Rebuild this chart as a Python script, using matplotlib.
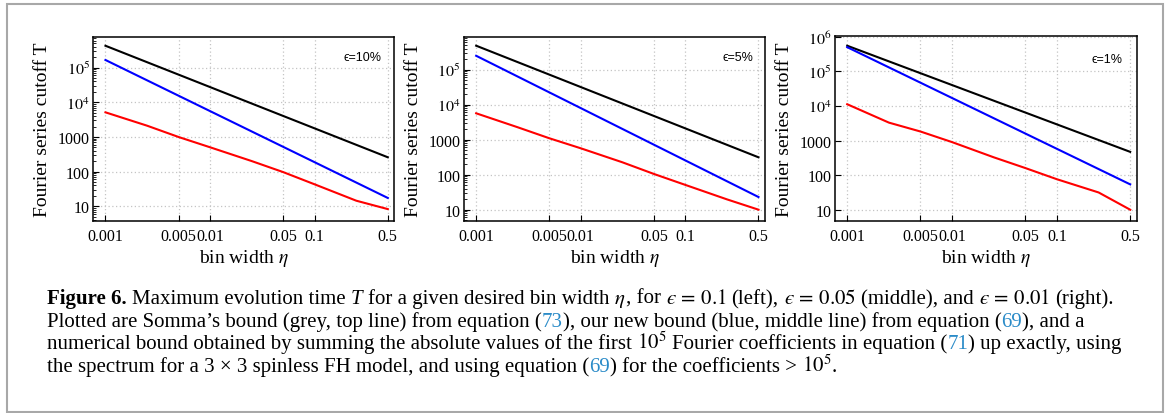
import numpy as np
import matplotlib

matplotlib.use("Agg")
import matplotlib.pyplot as plt
from matplotlib.patches import Rectangle
from matplotlib.ticker import FixedLocator, LogLocator, NullFormatter

W, H = 1167, 414

plt.rcParams["font.family"] = ["Liberation Serif", "DejaVu Serif"]
plt.rcParams["mathtext.fontset"] = "stix"

# bin width eta (x) values
eta_line = [0.001, 0.5]
eta_num = [0.001, 0.0025, 0.005, 0.01, 0.025, 0.05, 0.1, 0.25, 0.5]

# Somma's bound (black), new bound (blue), numerical bound (red)
somma = {
    "10": [4.3e5, 260],
    "5": [4.85e5, 314],
    "1": [5.5e5, 470],
}
new_bound = {
    "10": [1.67e5, 17.4],
    "5": [2.5e5, 23],
    "1": [5.0e5, 54],
}
numerical = {
    "10": [5150, 2120, 1000, 505, 202, 97, 43, 14.5, 8.3],
    "5": [5680, 2260, 1100, 568, 226, 105, 51, 19.7, 10],
    "1": [11200, 3290, 1820, 900, 327, 160, 76, 31.5, 10],
}
panel_keys = ["10", "5", "1"]
eps_labels = ["\u03f5=10%", "\u03f5=5%", "\u03f5=1%"]

x_ticks = [0.001, 0.005, 0.01, 0.05, 0.1, 0.5]
x_ticklabels = ["0.001", "0.005", "0.01", "0.05", "0.1", "0.5"]
y_ticks = [10, 100, 1000, 1e4, 1e5, 1e6]
y_ticklabels = ["10", "100", "1000", r"$10^{4}$", r"$10^{5}$", r"$10^{6}$"]

# axes boxes in pixels (x0, y0, x1, y1), y from top
boxes = [(93.3, 37.7, 394.3, 222.3), (464, 37.7, 765, 222.0), (835, 37.3, 1136.7, 222.3)]
ylims = [(3.69, 7.85e5), (4.75, 8.77e5), (4.62, 1.03e6)]
xlim = (7.65e-4, 0.577)
eps_pos = [(363, 58), (738, 58), (1107, 60)]

GRID = "#c4c4c4"
LINK = "#2a8bc8"

fig = plt.figure(figsize=(W / 100, H / 100), dpi=100)
fig.patch.set_facecolor("white")

for i, key in enumerate(panel_keys):
    x0, y0, x1, y1 = boxes[i]
    ax = fig.add_axes([x0 / W, 1 - y1 / H, (x1 - x0) / W, (y1 - y0) / H])
    ax.set_xscale("log")
    ax.set_yscale("log")
    ax.plot(eta_line, somma[key], color="black", lw=1.5, zorder=3)
    ax.plot(eta_line, new_bound[key], color="#0000ff", lw=1.5, zorder=3)
    ax.plot(eta_num, numerical[key], color="#ff0000", lw=1.5, zorder=3)
    ax.set_xlim(*xlim)

    ax.xaxis.set_major_locator(FixedLocator(x_ticks))
    ax.set_xticklabels(x_ticklabels)
    ax.xaxis.set_minor_locator(FixedLocator([]))
    ax.yaxis.set_major_locator(FixedLocator(y_ticks))
    ax.set_yticklabels(y_ticklabels)
    ax.yaxis.set_minor_locator(LogLocator(base=10, subs=np.arange(2, 10)))
    ax.yaxis.set_minor_formatter(NullFormatter())
    ax.set_ylim(*ylims[i])

    ax.tick_params(axis="both", which="major", direction="in", length=4, width=0.8,
                   labelsize=11.5, top=False, right=False)
    ax.tick_params(axis="y", which="minor", direction="in", length=2.2, width=0.6,
                   right=False)
    ax.tick_params(axis="x", which="major", pad=5)
    ax.tick_params(axis="y", which="major", pad=2.5)
    ax.grid(True, which="major", color=GRID, linestyle=(0, (1, 2)), lw=0.9)
    for sp in ax.spines.values():
        sp.set_linewidth(1.1)

    ax.set_ylabel("Fourier series cutoff T", fontsize=14)
    ax.yaxis.set_label_coords(-42 / (x1 - x0), 0.5)
    ax.set_xlabel(r"bin width $\eta$", fontsize=14)
    ax.xaxis.set_label_coords(0.5, -26 / (y1 - y0))

    ex, ey = eps_pos[i]
    fig.text(ex / W, 1 - ey / H, eps_labels[i], ha="center", va="center",
             fontsize=9, family=["Liberation Sans", "DejaVu Sans"])

# caption, drawn piece by piece so bold / italic / link colours can mix
EPS = "\u03f5"
caption = [
    [("Figure 6.", "b"), (" Maximum evolution time ", ""), ("T", "i"),
     (" for a given desired bin width ", ""), (r"$\eta$", ""), (", for ", ""),
     ("$" + EPS + r"\,=\,0.1$", ""), (" (left), ", ""), ("$" + EPS + r"\,=\,0.05$", ""),
     (" (middle), and ", ""), ("$" + EPS + r"\,=\,0.01$", ""), (" (right).", "")],
    [("Plotted are Somma\u2019s bound (grey, top line) from equation (", ""), ("73", "l"),
     ("), our new bound (blue, middle line) from equation (", ""), ("69", "l"),
     ("), and a", "")],
    [("numerical bound obtained by summing the absolute values of the first ", ""),
     (r"$10^5$", ""), (" Fourier coefficients in equation (", ""), ("71", "l"),
     (") up exactly, using", "")],
    [("the spectrum for a 3 \u00d7 3 spinless FH model, and using equation (", ""),
     ("69", "l"), (") for the coefficients > ", ""), (r"$10^5$", ""), (".", "")],
]
cap_x = 47
cap_base = [304, 327, 349.5, 372]
cap_size = 15

renderer = fig.canvas.get_renderer()


def text_width(s, **kw):
    t = fig.text(0, 0, s, **kw)
    w = t.get_window_extent(renderer).width
    t.remove()
    return w


space_w = text_width("a a", fontsize=cap_size) - text_width("aa", fontsize=cap_size)

for line, base in zip(caption, cap_base):
    x = cap_x
    for s, st in line:
        kw = dict(fontsize=cap_size, va="baseline", ha="left")
        if st == "b":
            kw["fontweight"] = "bold"
        if st == "i":
            kw["fontstyle"] = "italic"
        if st == "l":
            kw["color"] = LINK
        lead = len(s) - len(s.lstrip(" "))
        trail = len(s) - len(s.rstrip(" "))
        core = s.strip(" ")
        x += lead * space_w
        t = fig.text(x / W, 1 - base / H, core, **kw)
        x += t.get_window_extent(renderer).width + trail * space_w

fig.patches.append(Rectangle((6.5 / W, 1 - 412.5 / H), 1156 / W, 408 / H,
                             transform=fig.transFigure, fill=False,
                             edgecolor="#a8a8a8", lw=1.5))

fig.savefig("out.png", dpi=100, facecolor="white")
